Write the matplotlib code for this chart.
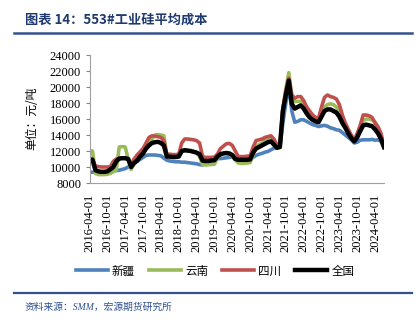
import pandas as pd
import matplotlib
matplotlib.use('Agg')
import matplotlib.pyplot as plt
from matplotlib.lines import Line2D

plt.rcParams['font.family'] = ['Liberation Serif', 'Noto Sans CJK SC', 'DejaVu Sans']

# 月度数据 2016-04 ~ 2024-07 (元/吨)
months = pd.date_range('2016-04-01', periods=100, freq='MS')

xinjiang = [
    9350, 9350, 9350, 9350, 9350, 9350, 9400, 9450, 9500, 9550, 9600, 9700,
    9800, 10000, 10200, 10450, 10700, 10950, 11200, 11450, 11500, 11500, 11500, 11450,
    11400, 11100, 10850, 10750, 10700, 10650, 10650, 10600, 10600, 10550, 10500, 10450,
    10400, 10300, 10250, 10700, 10950, 11000, 11000, 11050, 11050, 11100, 11150, 11200,
    11300, 11100, 10900, 10900, 10950, 11000, 11050, 11200, 11450, 11600, 11700, 11850,
    11950, 12150, 12350, 12450, 12450, 15500, 18000, 20200, 17000, 15600, 15700, 15900,
    15900, 15700, 15500, 15300, 15200, 15050, 15150, 15200, 15100, 14900, 14800, 14650,
    14600, 14300, 14000, 13700, 13400, 13000, 13100, 13350, 13400, 13400, 13400, 13450,
    13350, 13400, 13200, 12400,
]
yunnan = [
    12000, 12000, 9200, 9050, 9050, 9050, 9100, 9200, 9400, 9600, 12500, 12550,
    12500, 11000, 9700, 10400, 10900, 11400, 12000, 12500, 13100, 13500, 14000, 14050,
    14000, 13900, 11400, 11300, 11300, 11300, 11400, 12000, 12000, 12050, 12000, 11900,
    11800, 11300, 10300, 10250, 10300, 10300, 10350, 11100, 11500, 11700, 11700, 11600,
    11300, 10900, 10500, 10450, 10450, 10500, 10550, 11500, 12600, 12800, 13000, 13300,
    13600, 13700, 13200, 12500, 12500, 17200, 19800, 21800, 18900, 18200, 18200, 18200,
    18100, 17500, 16700, 16300, 16000, 15700, 16500, 17500, 17800, 17900, 17800, 17500,
    16800, 15700, 15000, 14300, 13700, 13300, 14000, 15000, 15800, 16000, 16000, 15900,
    15600, 15000, 14000, 12500,
]
sichuan = [
    11100, 11000, 10100, 10050, 10000, 10000, 10000, 10050, 10700, 11000, 11100, 11100,
    11100, 11000, 10300, 11000, 11500, 11900, 12300, 13000, 13700, 13900, 13850, 13800,
    13700, 13300, 11600, 11600, 11550, 11550, 11600, 13000, 13500, 13500, 13450, 13400,
    13300, 13000, 11300, 11200, 11200, 11200, 11250, 11600, 12300, 12600, 12900, 12950,
    12700, 12000, 11300, 11300, 11300, 11350, 11400, 12500, 13300, 13400, 13500, 13700,
    13800, 13900, 13500, 12800, 12600, 17300, 19500, 21100, 19000, 18600, 18800, 18800,
    18300, 17500, 17000, 16500, 16200, 16100, 17500, 18700, 19000, 18800, 18700, 18500,
    17800, 16500, 15500, 14700, 14000, 13400, 14200, 15200, 16500, 16500, 16400, 16200,
    15500, 15000, 14200, 12500,
]
national = [
    10900, 10900, 9600, 9450, 9400, 9400, 9450, 9700, 10000, 10700, 11050, 11100,
    11100, 11000, 10000, 10500, 10800, 11300, 11700, 12300, 12700, 13000, 13100, 13150,
    13000, 12700, 11300, 11300, 11250, 11250, 11300, 12000, 12100, 12050, 12000, 11900,
    11800, 11600, 10800, 10750, 10750, 10800, 10850, 11300, 11600, 11700, 11750, 11700,
    11500, 11000, 10900, 10900, 10900, 10900, 10950, 11800, 12300, 12500, 12700, 12900,
    13100, 13200, 12800, 12400, 12500, 17000, 19000, 20800, 17900, 17300, 17500, 17700,
    17300, 16700, 16200, 15900, 15700, 15600, 16300, 17000, 17200, 17200, 17000, 16800,
    16300, 15500, 14900, 14200, 13600, 13200, 13700, 14500, 15200, 15300, 15200, 15100,
    14700, 14200, 13500, 12500,
]

series = [
    ('新疆', xinjiang, '#4F81BD', 2.6),
    ('云南', yunnan, '#9BBB59', 2.6),
    ('四川', sichuan, '#C0504D', 2.6),
    ('全国', national, '#000000', 3.2),
]

W, H = 420, 327
fig = plt.figure(figsize=(W / 100, H / 100), dpi=100)

# 标题与分隔线
fig.text(25 / W, 1 - 20 / H, '图表 14：553#工业硅平均成本', fontsize=9.5, fontweight='bold',
         color='#1F3A6E', va='center', ha='left', family=['Noto Sans CJK SC', 'DejaVu Sans'])
fig.add_artist(Line2D([14 / W, 412 / W], [1 - 32.5 / H, 1 - 32.5 / H], color='#34518C', lw=1.8))
fig.add_artist(Line2D([14 / W, 412 / W], [1 - 293 / H, 1 - 293 / H], color='#34518C', lw=1.6))
fig.text(25 / W, 1 - 307 / H, '资料来源：SMM，宏源期货研究所', fontsize=7, style='italic',
         color='#2F4F8F', va='center', ha='left')

ax = fig.add_axes([89.5 / W, 1 - 183 / H, (384 - 89.5) / W, (183 - 55) / H])
x = range(len(months))
for name, vals, col, lw in series:
    ax.plot(x, vals, color=col, lw=lw, label=name, solid_joinstyle='round')

ax.set_xlim(0, len(months) - 1)
ax.set_ylim(8000, 24000)
ax.set_yticks(range(8000, 24001, 2000))
ax.tick_params(axis='y', labelsize=9, length=3, color='#888888', pad=3)
ticks = list(range(0, len(months), 6))
ax.set_xticks(ticks)
ax.set_xticklabels([months[i].strftime('%Y-%m-%d') for i in ticks], rotation=90, fontsize=9)
ax.tick_params(axis='x', length=0, pad=8)
for s in ['top', 'right']:
    ax.spines[s].set_visible(False)
for s in ['left', 'bottom']:
    ax.spines[s].set_color('#A0A0A0')
    ax.spines[s].set_linewidth(0.8)

fig.text(32 / W, 1 - 118 / H, '单位：元/吨', rotation=90, fontsize=8.5, va='center', ha='center',
         family=['Noto Sans CJK SC', 'DejaVu Sans'])

leg = fig.legend(loc='center', bbox_to_anchor=(215 / W, 1 - 271 / H), ncol=4, frameon=False,
                 prop={'family': ['Noto Sans CJK SC', 'DejaVu Sans'], 'size': 8.3},
                 handlelength=2.8, handletextpad=0.35, columnspacing=1.2)

fig.savefig('out.png', dpi=100)
